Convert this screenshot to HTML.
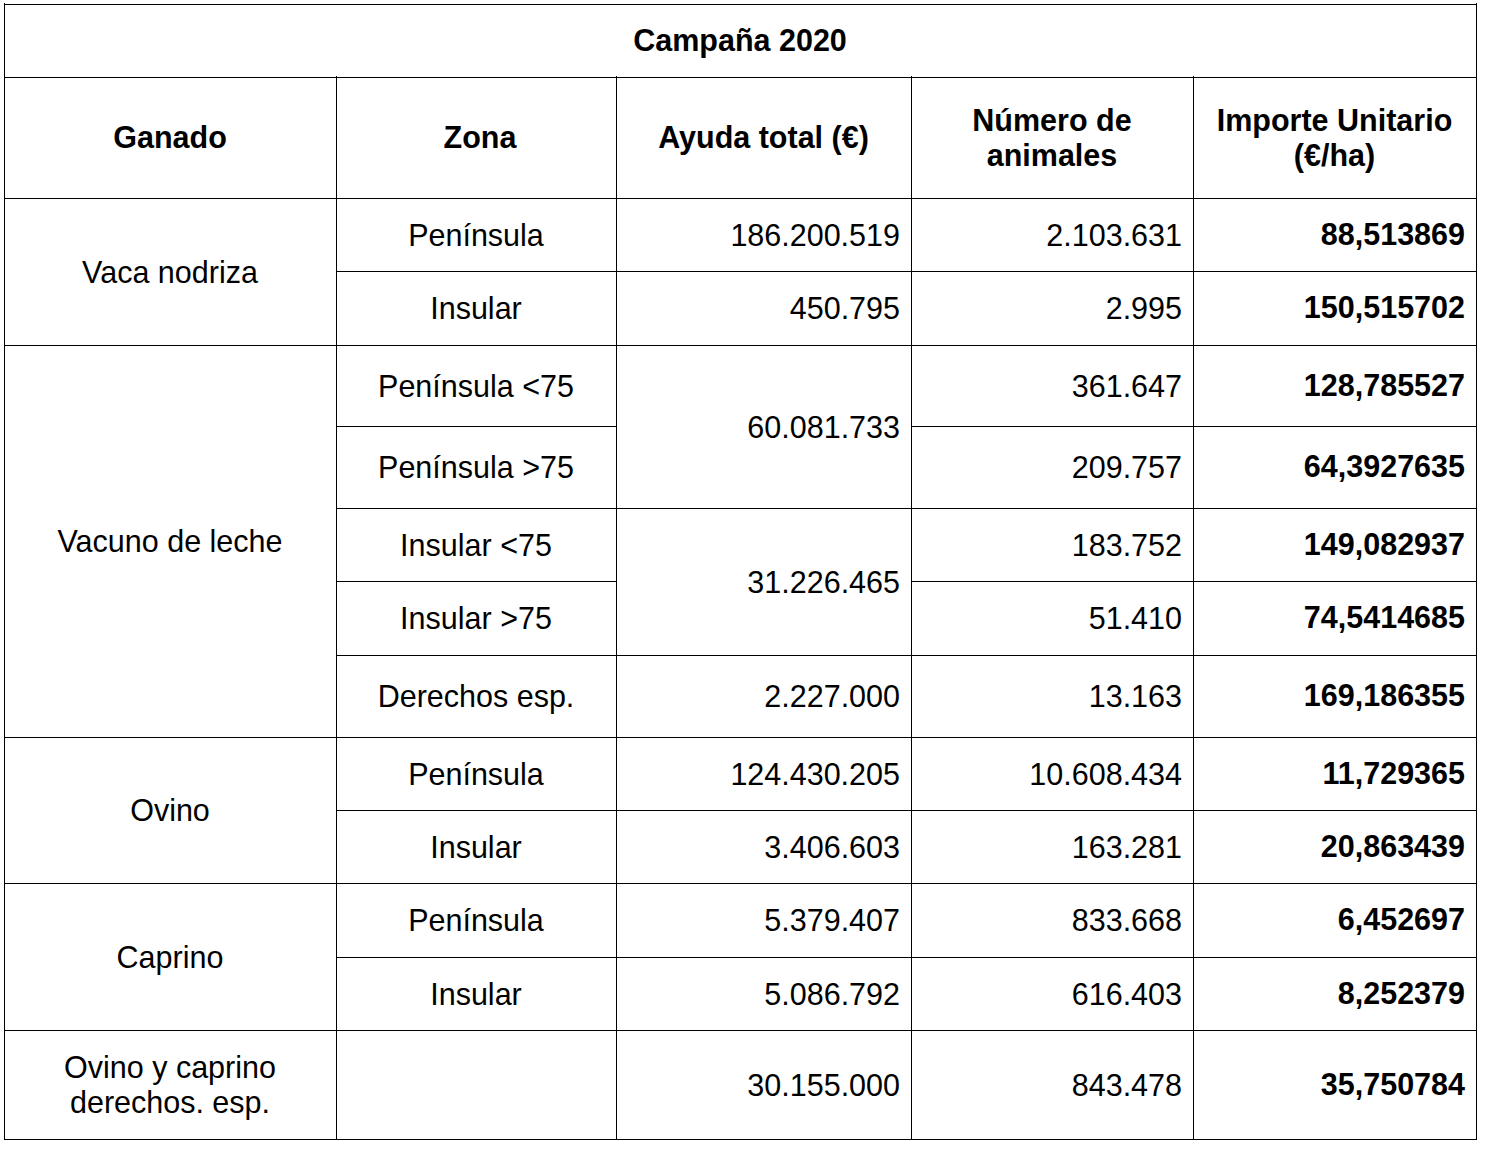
<!DOCTYPE html>
<html><head><meta charset="utf-8"><style>
html,body{margin:0;padding:0;background:#fff;width:1486px;height:1150px;overflow:hidden;position:relative}
i{position:absolute;background:#000;display:block}
p{position:absolute;margin:0;font-family:"Liberation Sans",sans-serif;font-size:30.5px;line-height:35px;color:#000;white-space:nowrap}
p.b{font-weight:bold}
</style></head><body>
<i style="left:4px;top:4px;width:1473px;height:1px"></i>
<i style="left:4px;top:77px;width:1473px;height:1px"></i>
<i style="left:4px;top:198px;width:1473px;height:1px"></i>
<i style="left:336px;top:271px;width:1141px;height:1px"></i>
<i style="left:4px;top:345px;width:1473px;height:1px"></i>
<i style="left:336px;top:426px;width:281px;height:1px"></i>
<i style="left:911px;top:426px;width:566px;height:1px"></i>
<i style="left:336px;top:508px;width:1141px;height:1px"></i>
<i style="left:336px;top:581px;width:281px;height:1px"></i>
<i style="left:911px;top:581px;width:566px;height:1px"></i>
<i style="left:336px;top:655px;width:1141px;height:1px"></i>
<i style="left:4px;top:737px;width:1473px;height:1px"></i>
<i style="left:336px;top:810px;width:1141px;height:1px"></i>
<i style="left:4px;top:883px;width:1473px;height:1px"></i>
<i style="left:336px;top:957px;width:1141px;height:1px"></i>
<i style="left:4px;top:1030px;width:1473px;height:1px"></i>
<i style="left:4px;top:1139px;width:1473px;height:1px"></i>
<i style="left:4px;top:3px;width:1px;height:1137px"></i>
<i style="left:1476px;top:3px;width:1px;height:1137px"></i>
<i style="left:336px;top:76px;width:1px;height:1064px"></i>
<i style="left:616px;top:76px;width:1px;height:1064px"></i>
<i style="left:911px;top:76px;width:1px;height:1064px"></i>
<i style="left:1193px;top:76px;width:1px;height:1064px"></i>
<p class="b" style="left:4px;top:23px;width:1472px;text-align:center">Campaña 2020</p>
<p class="b" style="left:4px;top:120px;width:332px;text-align:center">Ganado</p>
<p class="b" style="left:340px;top:120px;width:280px;text-align:center">Zona</p>
<p class="b" style="left:616px;top:120px;width:295px;text-align:center">Ayuda total (€)</p>
<p class="b" style="left:911px;top:103px;width:282px;text-align:center">Número de<br>animales</p>
<p class="b" style="left:1193px;top:103px;width:283px;text-align:center">Importe Unitario<br>(€/ha)</p>
<p class="r" style="left:4px;top:255px;width:332px;text-align:center">Vaca nodriza</p>
<p class="r" style="left:336px;top:218px;width:280px;text-align:center">Península</p>
<p class="r" style="right:586px;top:218px;text-align:right">186.200.519</p>
<p class="r" style="right:304px;top:218px;text-align:right">2.103.631</p>
<p class="b" style="right:21px;top:217px;text-align:right">88,513869</p>
<p class="r" style="left:336px;top:291px;width:280px;text-align:center">Insular</p>
<p class="r" style="right:586px;top:291px;text-align:right">450.795</p>
<p class="r" style="right:304px;top:291px;text-align:right">2.995</p>
<p class="b" style="right:21px;top:290px;text-align:right">150,515702</p>
<p class="r" style="left:4px;top:524px;width:332px;text-align:center">Vacuno de leche</p>
<p class="r" style="left:336px;top:369px;width:280px;text-align:center">Península &lt;75</p>
<p class="r" style="right:586px;top:410px;text-align:right">60.081.733</p>
<p class="r" style="right:304px;top:369px;text-align:right">361.647</p>
<p class="b" style="right:21px;top:368px;text-align:right">128,785527</p>
<p class="r" style="left:336px;top:450px;width:280px;text-align:center">Península &gt;75</p>
<p class="r" style="right:304px;top:450px;text-align:right">209.757</p>
<p class="b" style="right:21px;top:449px;text-align:right">64,3927635</p>
<p class="r" style="left:336px;top:528px;width:280px;text-align:center">Insular &lt;75</p>
<p class="r" style="right:586px;top:565px;text-align:right">31.226.465</p>
<p class="r" style="right:304px;top:528px;text-align:right">183.752</p>
<p class="b" style="right:21px;top:527px;text-align:right">149,082937</p>
<p class="r" style="left:336px;top:601px;width:280px;text-align:center">Insular &gt;75</p>
<p class="r" style="right:304px;top:601px;text-align:right">51.410</p>
<p class="b" style="right:21px;top:600px;text-align:right">74,5414685</p>
<p class="r" style="left:336px;top:679px;width:280px;text-align:center">Derechos esp.</p>
<p class="r" style="right:586px;top:679px;text-align:right">2.227.000</p>
<p class="r" style="right:304px;top:679px;text-align:right">13.163</p>
<p class="b" style="right:21px;top:678px;text-align:right">169,186355</p>
<p class="r" style="left:4px;top:793px;width:332px;text-align:center">Ovino</p>
<p class="r" style="left:336px;top:757px;width:280px;text-align:center">Península</p>
<p class="r" style="right:586px;top:757px;text-align:right">124.430.205</p>
<p class="r" style="right:304px;top:757px;text-align:right">10.608.434</p>
<p class="b" style="right:21px;top:756px;text-align:right">11,729365</p>
<p class="r" style="left:336px;top:830px;width:280px;text-align:center">Insular</p>
<p class="r" style="right:586px;top:830px;text-align:right">3.406.603</p>
<p class="r" style="right:304px;top:830px;text-align:right">163.281</p>
<p class="b" style="right:21px;top:829px;text-align:right">20,863439</p>
<p class="r" style="left:4px;top:940px;width:332px;text-align:center">Caprino</p>
<p class="r" style="left:336px;top:903px;width:280px;text-align:center">Península</p>
<p class="r" style="right:586px;top:903px;text-align:right">5.379.407</p>
<p class="r" style="right:304px;top:903px;text-align:right">833.668</p>
<p class="b" style="right:21px;top:902px;text-align:right">6,452697</p>
<p class="r" style="left:336px;top:977px;width:280px;text-align:center">Insular</p>
<p class="r" style="right:586px;top:977px;text-align:right">5.086.792</p>
<p class="r" style="right:304px;top:977px;text-align:right">616.403</p>
<p class="b" style="right:21px;top:976px;text-align:right">8,252379</p>
<p class="r" style="left:4px;top:1050px;width:332px;text-align:center">Ovino y caprino<br>derechos. esp.</p>
<p class="r" style="right:586px;top:1068px;text-align:right">30.155.000</p>
<p class="r" style="right:304px;top:1068px;text-align:right">843.478</p>
<p class="b" style="right:21px;top:1067px;text-align:right">35,750784</p>
</body></html>
